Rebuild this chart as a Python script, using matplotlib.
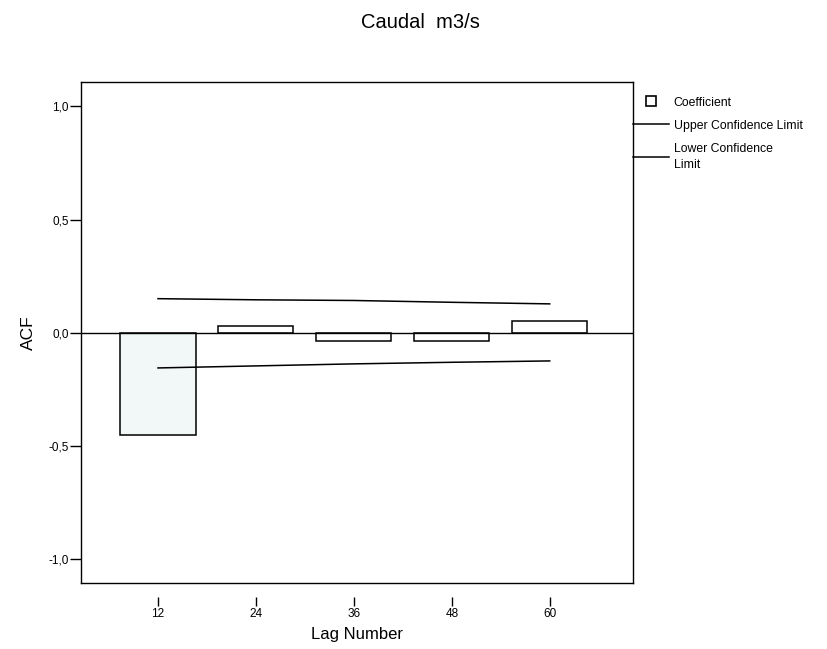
# acf_caudal.py
# ACF del caudal (m3/s) con límites de confianza

import matplotlib
matplotlib.use('Agg')
import matplotlib.pyplot as plt
from matplotlib.lines import Line2D
from matplotlib.ticker import FuncFormatter

plt.rcParams['font.family'] = ['Liberation Sans', 'DejaVu Sans']

# -----------------datos
lags = [12, 24, 36, 48, 60]                      # retardos
acf = [-0.453, 0.032, -0.035, -0.034, 0.052]     # coeficientes
upper = [0.151, 0.146, 0.143, 0.135, 0.128]      # límite superior
lower = [-0.155, -0.146, -0.137, -0.130, -0.124]  # límite inferior
yticks = [1.0, 0.5, 0.0, -0.5, -1.0]

# -----------------figura
fig = plt.figure(figsize=(8.27, 6.49), dpi=100, facecolor='white')
ax = fig.add_axes([0.098, 0.1017, 0.667, 0.7719])

fills = ['#f2f7f7'] + ['white'] * (len(lags) - 1)  # la primera barra va punteada
ax.bar(lags, acf, width=9.2, color=fills, edgecolor='black', linewidth=1.1, zorder=2)
ax.axhline(0, color='black', linewidth=1.0, zorder=3)
ax.plot(lags, upper, color='black', linewidth=1.1, zorder=4)
ax.plot(lags, lower, color='black', linewidth=1.1, zorder=4)

ax.set_xlim(2.57, 70.16)
ax.set_ylim(-1.105, 1.108)
ax.set_xticks(lags)
ax.set_yticks(yticks)
ax.yaxis.set_major_formatter(FuncFormatter(lambda v, p: ('%.1f' % v).replace('.', ',')))
ax.tick_params(axis='y', direction='out', length=8, width=1, pad=1, labelsize=8.5)
ax.tick_params(axis='x', direction='out', length=6.5, width=1, pad=1.5, labelsize=8.5)

# marcas del eje x separadas del marco (estilo SPSS)
ax.spines['bottom'].set_position(('outward', 10))
ax.spines['bottom'].set_visible(False)
ax.plot([0, 1], [0, 0], transform=ax.transAxes, color='black', linewidth=1.0, clip_on=False)
for s in ['left', 'top', 'right']:
    ax.spines[s].set_linewidth(1.0)

ax.set_xlabel('Lag Number', fontsize=12, labelpad=5)
ax.set_ylabel('ACF', fontsize=12.5, labelpad=9)
fig.text(0.508, 0.965, 'Caudal  m3/s', fontsize=14.5, ha='center', va='center')

handles = [
    Line2D([], [], marker='s', linestyle='none', markersize=6.5,
           markerfacecolor='white', markeredgecolor='black', markeredgewidth=1.2),
    Line2D([], [], color='black', linewidth=1.1),
    Line2D([], [], color='black', linewidth=1.1),
]
labels = ['Coefficient', 'Upper Confidence Limit', 'Lower Confidence\nLimit']
leg = ax.legend(handles, labels, loc='upper left', bbox_to_anchor=(1.0, 0.971),
                frameon=False, fontsize=8.8, borderaxespad=0, borderpad=0,
                handlelength=3.0, handletextpad=0.35, labelspacing=0.9)
for t in leg.get_texts():
    t.set_linespacing(1.5)

fig.savefig('out.png', dpi=100, facecolor='white')
